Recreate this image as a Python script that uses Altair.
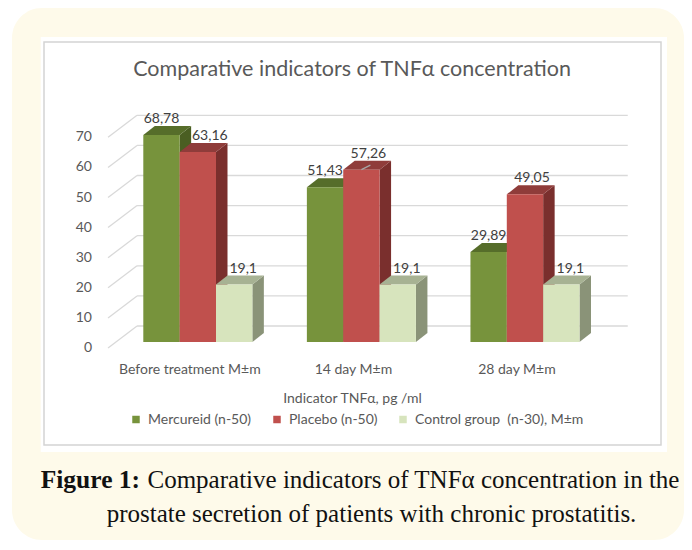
import altair as alt
import pandas as pd

# ---------------- data ----------------
categories = ["Before treatment M\u00b1m", "14 day M\u00b1m", "28 day M\u00b1m"]
series = ["Mercureid (n-50)", "Placebo (n-50)", "Control group \u00a0(n-30), M\u00b1m"]
mercureid = [68.78, 51.43, 29.89]
placebo = [63.16, 57.26, 49.05]
control = [19.1, 19.1, 19.1]
y_ticks = [0, 10, 20, 30, 40, 50, 60, 70]

title_text = "Comparative indicators of TNF\u03b1 concentration"
x_title_text = "Indicator TNF\u03b1, pg /ml"
caption_bold = "Figure 1:"
caption_line1 = "Comparative indicators of TNF\u03b1 concentration in the"
caption_line2 = "prostate secretion of patients with chronic prostatitis."

# ---------------- style / layout ----------------
W, H = 676, 534
FRONT_COLORS = ["#77933c", "#c0504d", "#d7e4bd"]
TOP_COLORS = ["#566d2a", "#8f3c3a", "#a7b293"]
SIDE_COLORS = ["#4a5e22", "#7a2f2d", "#8a9378"]
TEXT_GRAY = "#595959"
FONT = "Lato"
SERIF = "Liberation Serif"
SMALL = 14

BW = 36.35          # px per x unit (one bar width)
X0 = 135.3          # canvas px of first bar's front-left edge
PPU = 3.01          # px per value unit
Y0 = 334.0          # canvas px of value 0 at the bars' front plane
GROUP = 4.5         # x units between categories
DXB, DYB = 11.5 / BW, 9.0 / PPU          # bar depth
FDX, FDY = -8.0 / BW, -6.0 / PPU         # front plane offset
BDX, BDY = 21.0 / BW, 16.0 / PPU         # back wall offset
XL, XR = -0.75, 3 * GROUP - 0.75
YLAB_X = (84 - X0) / BW                  # right edge of y tick labels

x_scale = alt.Scale(domain=[-X0 / BW, (W - X0) / BW], range=[0, W], zero=False, nice=False)
y_scale = alt.Scale(domain=[-(H - Y0) / PPU, Y0 / PPU], range=[H, 0], zero=False, nice=False)

values_by_series = [mercureid, placebo, control]
LABEL_DX = [0.0, 7.0 / BW, 9.0 / BW]      # label shift per series
LABEL_NUDGE = {(0, 1): 5.0 / BW}          # keep label clear of taller left neighbour
LEADER = [(1, 1)]                         # labels drawn with a leader line

bars, sides, tops, labels, leaders = [], [], [], [], []
for ci, cat in enumerate(categories):
    for si, s in enumerate(series):
        v = values_by_series[si][ci]
        x0 = ci * GROUP + si
        x1 = x0 + 1
        key = f"{ci}-{si}"
        bars.append(dict(series=s, x0=x0, x1=x1, v=v))
        sides.append(dict(series=s, key=key, x=x1, lo=0.0, hi=v))
        sides.append(dict(series=s, key=key, x=x1 + DXB, lo=DYB, hi=v + DYB))
        tops.append(dict(series=s, key=key, y=v, xa=x0, xb=x1))
        tops.append(dict(series=s, key=key, y=v + DYB, xa=x0 + DXB, xb=x1 + DXB))
        labels.append(dict(series=s,
                           x=x0 + 0.5 + LABEL_DX[si] + LABEL_NUDGE.get((ci, si), 0.0),
                           y=v + DYB, text=str(v).replace(".", ",")))
        if (ci, si) in LEADER:
            leaders.append(dict(x=x0 + 0.5, y=v, x2=x0 + 0.5 + 9.0 / BW, y2=v + 4.5 / PPU))

bars_df = pd.DataFrame(bars)
sides_df = pd.DataFrame(sides)
tops_df = pd.DataFrame(tops)
labels_df = pd.DataFrame(labels)
leaders_df = pd.DataFrame(leaders)

grid_df = pd.DataFrame({
    "v": y_ticks,
    "yb": [t + BDY for t in y_ticks],
    "yf": [t + FDY for t in y_ticks],
    "xbl": XL + BDX, "xbr": XR + BDX, "xfl": XL + FDX,
    "lbl": [str(t) for t in y_ticks],
    "xlab": YLAB_X,
})
cat_df = pd.DataFrame({
    "cat": categories,
    "x": [1.5 + GROUP * i + FDX for i in range(len(categories))],
    "y": -28.0 / PPU,
})

one = pd.DataFrame({"a": [0]})

def X(f, **kw):
    return alt.X(f, scale=x_scale, axis=None, **kw)

def Y(f, **kw):
    return alt.Y(f, scale=y_scale, axis=None, **kw)

# ---------------- decoration ----------------
yellow = alt.Chart(one).mark_rect(color="#fefaea", cornerRadius=30).encode(
    x=alt.value(4), x2=alt.value(W), y=alt.value(0), y2=alt.value(532))
white_outer = alt.Chart(one).mark_rect(color="white").encode(
    x=alt.value(32.7), x2=alt.value(659), y=alt.value(29), y2=alt.value(444))
box = alt.Chart(one).mark_rect(fill="white", stroke="#d4d4d4", strokeWidth=1.5).encode(
    x=alt.value(36), x2=alt.value(653), y=alt.value(34), y2=alt.value(437))

# ---------------- grid ----------------
back_grid = alt.Chart(grid_df).mark_rule(color="#d9d9d9", strokeWidth=1.3).encode(
    x=X("xbl:Q"), x2="xbr:Q", y=Y("yb:Q"))
wall_grid = alt.Chart(grid_df).mark_rule(color="#d9d9d9", strokeWidth=1.3).encode(
    x=X("xfl:Q"), x2="xbl:Q", y=Y("yf:Q"), y2="yb:Q")
y_labels = alt.Chart(grid_df).mark_text(
    align="right", baseline="middle", font=FONT, fontSize=SMALL, color=TEXT_GRAY).encode(
    x=X("xlab:Q"), y=Y("yf:Q"), text="lbl:N")

# ---------------- 3D bars ----------------
side_layer = alt.Chart(sides_df).mark_area(orient="vertical").encode(
    x=X("x:Q"), y=Y("hi:Q", stack=None), y2="lo:Q", detail="key:N",
    color=alt.Color("series:N", scale=alt.Scale(domain=series, range=SIDE_COLORS), legend=None))
top_layer = alt.Chart(tops_df).mark_area(orient="horizontal").encode(
    y=Y("y:Q"), x=X("xa:Q", stack=None), x2="xb:Q", detail="key:N",
    color=alt.Color("series:N", scale=alt.Scale(domain=series, range=TOP_COLORS), legend=None))
front_layer = alt.Chart(bars_df).mark_rect().encode(
    x=X("x0:Q"), x2="x1:Q", y=Y("v:Q"), y2=alt.datum(0),
    color=alt.Color("series:N", scale=alt.Scale(domain=series, range=FRONT_COLORS),
                    legend=alt.Legend(title=None, orient="none", direction="horizontal",
                                      columns=3, legendX=121, legendY=404.5, padding=0,
                                      symbolType="square", symbolSize=56, symbolStrokeWidth=0,
                                      labelFont=FONT, labelFontSize=SMALL, labelColor=TEXT_GRAY,
                                      labelOffset=5, columnPadding=18, labelLimit=300)))
leader_layer = alt.Chart(leaders_df).mark_rule(color="#a6a6a6", strokeWidth=1.2).encode(
    x=X("x:Q"), y=Y("y:Q"), x2="x2:Q", y2="y2:Q")
value_labels = alt.Chart(labels_df).mark_text(
    baseline="middle", dy=-7, font=FONT, fontSize=SMALL, color="#404040").encode(
    x=X("x:Q"), y=Y("y:Q"), text="text:N")

cat_labels = alt.Chart(cat_df).mark_text(
    baseline="middle", font=FONT, fontSize=SMALL, color=TEXT_GRAY).encode(
    x=X("x:Q"), y=Y("y:Q"), text="cat:N")

# ---------------- texts ----------------
def txt(t, x, y, **kw):
    return alt.Chart(one).mark_text(text=t, **kw).encode(x=alt.value(x), y=alt.value(y))

title = txt(title_text, 344, 62, font=FONT, fontSize=21.5, color=TEXT_GRAY, baseline="middle")
x_title = txt(x_title_text, 344.5, 391, font=FONT, fontSize=SMALL, color=TEXT_GRAY, baseline="middle")
cap_b = txt(caption_bold, 32.7, 480, font=SERIF, fontSize=25.5, fontWeight="bold",
            color="#111111", align="left", baseline="alphabetic")
cap_1 = txt(caption_line1, 139.5, 480, font=SERIF, fontSize=25, color="#111111",
            align="left", baseline="alphabetic")
cap_2 = txt(caption_line2, 363.5, 514, font=SERIF, fontSize=25, color="#111111",
            align="center", baseline="alphabetic")

chart = alt.layer(
    yellow, white_outer, box, back_grid, wall_grid, y_labels,
    side_layer, top_layer, front_layer, leader_layer, value_labels, cat_labels,
    title, x_title, cap_b, cap_1, cap_2,
).resolve_scale(color="independent").properties(
    width=W, height=H, padding=0, autosize=alt.AutoSizeParams(type="none"),
).configure_view(stroke=None)

chart.save("out.html", embed_options={"renderer": "svg", "actions": False})
